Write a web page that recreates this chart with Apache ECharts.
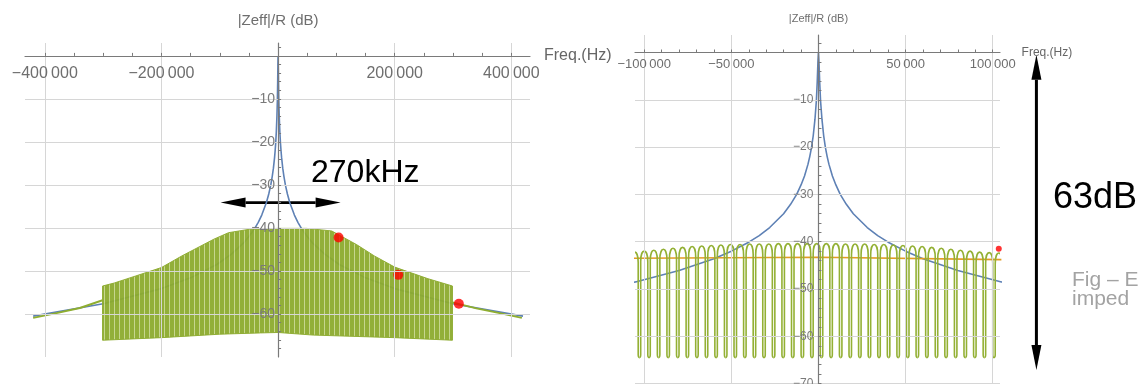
<!DOCTYPE html>
<html>
<head>
<meta charset="utf-8">
<script src="https://cdn.jsdelivr.net/npm/echarts@6/dist/echarts.min.js"></script>
<style>
  html, body { margin: 0; padding: 0; background: #fff; }
  #chart { width: 1140px; height: 384px; }
</style>
</head>
<body>
<div id="chart"></div>
<script>
// ---- data ----
// blue |Zeff|/R curve (same curve in both panels)
const blueFreq = [-420000, -300000, -200000, -150000, -105000, -80000, -60000, -50000, -40000, -34000, -28000, -20000, -16000, -12500, -10000, -8000,
  -6000, -5000, -4000, -3000, -2000, -1200, -700, -300, 0,
  300, 700, 1200, 2000, 3000, 4000, 5000, 6000, 8000, 10000, 12500, 16000, 20000, 28000, 34000, 40000, 50000, 60000, 80000, 105000,
  150000, 200000, 300000, 420000];
const blueDb = [-60.5, -57.6, -54.1, -51.6, -48.5, -46.1, -43.6, -42.0, -40.1, -38.7, -37.0, -34.1, -32.1, -30.0, -28.0, -26.1,
  -23.6, -22.0, -20.1, -17.6, -14.1, -10.2, -6.2, -2.0, 0,
  -2.0, -6.2, -10.2, -14.1, -17.6, -20.1, -22.0, -23.6, -26.1, -28.0, -30.0, -32.1, -34.1, -37.0, -38.7, -40.1, -42.0, -43.6, -46.1, -48.5,
  -51.6, -54.1, -57.6, -60.5];

// left panel: green band envelopes and tails
const bandTopFreq = [-301000, -281000, -245000, -200000, -165000, -134000, -110000, -85000, -49000, 0, 49000, 92000, 135000, 165000, 200000, 257000, 299000];
const bandTopDb = [-53.5, -52.8, -51.2, -49.2, -46.5, -44.3, -42.6, -41.1, -40.3, -40.1, -40.1, -40.7, -43.9, -46.5, -49.1, -51.8, -53.5];
const bandBottomFreq = [-301000, -200000, -100000, -30000, 0, 60000, 200000, 299000];
const bandBottomDb = [-66.1, -65.5, -64.7, -64.4, -64.3, -64.9, -65.5, -66.1];
const tailLeftFreq = [-420000, -380000, -340000, -301000];
const tailLeftDb = [-60.9, -59.8, -58.6, -56.8];
const tailRightFreq = [299000, 340000, 380000, 418000];
const tailRightDb = [-57.3, -58.7, -59.8, -60.9];
const redLeftFreq = [103800, 206000, 310000];
const redLeftDb = [-42.2, -50.9, -57.6];
const leftXTicks = [-400000, -200000, 200000, 400000];
const leftYTicks = [-60, -50, -40, -30, -20, -10];

// right panel: green arches (dip frequencies + arch top levels), orange line, red dot
const archDips = [-108250, -102750, -97250, -91750, -86250, -80750, -75250, -69750, -64250, -58750, -53250, -47750, -42250, -36750,
  -31250, -25750, -20250, -14750, -9250, -3750, 1750, 7250, 12750, 18250, 23750, 29250, 34750, 40250, 45750, 51250, 56750,
  62250, 67750, 73250, 78750, 84250, 89750, 95250, 100750, 106250];
const archTops = [-42.2, -42.0, -41.8, -41.6, -41.4, -41.2, -41.0, -40.9, -40.8, -40.7, -40.6, -40.6, -40.5, -40.5, -40.5, -40.4, -40.4, -40.4, -40.4,
  -40.4, -40.4, -40.4, -40.5, -40.5, -40.5, -40.6, -40.6, -40.7, -40.8, -40.9, -41.0, -41.2, -41.4, -41.6, -41.8, -42.0, -42.2, -42.3, -42.4];
const dipFloor = -64.5;
const orangeFreq = [-106000, 0, 105000];
const orangeDb = [-43.5, -43.3, -43.8];
const redRightFreq = [103500];
const redRightDb = [-41.5];
const rightXTicks = [-100000, -50000, 50000, 100000];
const rightYTicks = [-70, -60, -50, -40, -30, -20, -10];

// annotations (data coordinates of the arrow tips)
const spanArrow = [[-98600, -34.1], [107200, -34.1]];
const dbArrow = [[125100, -0.5], [125100, -67.1]];

// ---- styling ----
const FONT = "'Liberation Sans', Arial, sans-serif";
const AXIS = '#7a7a7a';
const GRIDC = '#d6d6d6';
const BLUE = '#5e81b5';
const GREEN = '#8fae30';
const ORANGE = '#e19c24';
const RED = '#ff0000';
const gridL = { left: 25, top: 43, width: 505, height: 314 };
const gridR = { left: 635, top: 35, width: 365, height: 348.6 };

const pairs = (xs, ys) => xs.map((x, i) => [x, ys[i]]);
const grouped = v => (v < 0 ? '\u2212' : '') + String(Math.abs(v)).replace(/\B(?=(\d{3})+(?!\d))/g, '\u2009');
const minus = v => (v < 0 ? '\u2212' : '') + Math.abs(v);
function steps(a, b, s) {
  const out = [];
  for (let v = a; v <= b + 1e-9; v += s) out.push(Math.round(v));
  return out;
}

// striped fill for the dense green band
const pat = document.createElement('canvas');
pat.width = 5; pat.height = 4;
const pg = pat.getContext('2d');
pg.fillStyle = '#8dab2f'; pg.fillRect(0, 0, 5, 4);
pg.fillStyle = '#c3d48a'; pg.fillRect(4, 0, 1, 4);

// x axis sits on y = 0 (moved there by offset below), labels underneath, ticks upward
function xAxis(grid, min, max, majors, minors, size, margin, nameSize, nameGap, namePad) {
  return {
    gridIndex: grid, type: 'value', min, max, position: 'top', z: 5,
    axisLine: { onZero: false, lineStyle: { color: AXIS, width: 1.2 } },
    axisTick: { show: true, inside: false, length: 3, customValues: minors, lineStyle: { color: AXIS } },
    axisLabel: { inside: true, customValues: majors, formatter: grouped, fontSize: size, color: '#6e6e6e', fontFamily: FONT, margin },
    splitLine: { show: false },
    name: 'Freq.(Hz)', nameLocation: 'end', nameGap,
    nameTextStyle: { fontSize: nameSize, color: '#666', fontFamily: FONT, padding: namePad }
  };
}
// y axis sits on x = 0, labels left, ticks to the right
function yAxis(grid, min, max, majors, minors, size, margin, nameSize, nameGap) {
  return {
    gridIndex: grid, type: 'value', min, max, position: 'left', z: 5,
    axisLine: { onZero: false, lineStyle: { color: AXIS, width: 1.2 } },
    axisTick: { show: true, inside: true, length: 3, customValues: minors, lineStyle: { color: AXIS } },
    axisLabel: { customValues: majors, formatter: minus, fontSize: size, color: '#7a7a7a', fontFamily: FONT, margin },
    splitLine: { show: false },
    name: '|Zeff|/R (dB)', nameLocation: 'end', nameGap,
    nameTextStyle: { fontSize: nameSize, color: '#6e6e6e', fontFamily: FONT }
  };
}
function gridLines(xi, xs, ys) {
  return {
    type: 'line', xAxisIndex: xi, yAxisIndex: xi, data: [], z: 1, silent: true,
    markLine: {
      silent: true, symbol: 'none', animation: false, label: { show: false },
      lineStyle: { color: GRIDC, width: 1, type: 'solid' },
      data: xs.map(v => ({ xAxis: v })).concat(ys.map(v => ({ yAxis: v })))
    }
  };
}
const plainLine = (xi, data, color, width, z) => ({
  type: 'line', xAxisIndex: xi, yAxisIndex: xi, data, showSymbol: false, symbol: 'none',
  lineStyle: { color, width }, z, silent: true
});

const chart = echarts.init(document.getElementById('chart'));

chart.setOption({
  animation: false,
  grid: [
    Object.assign({ outerBoundsMode: 'none' }, gridL),
    Object.assign({ outerBoundsMode: 'none' }, gridR)
  ],
  xAxis: [
    xAxis(0, -434000, 432000, leftXTicks, steps(-400000, 400000, 50000), 16, 10, 16, 14, [0, 0, 0, 0]),
    xAxis(1, -105300, 104200, rightXTicks, steps(-100000, 100000, 10000), 13, 5, 12, 8, [0, 0, 10, 0])
  ],
  yAxis: [
    yAxis(0, -70, 3, leftYTicks, steps(-68, 2, 2), 14, 3, 15, 15),
    yAxis(1, -70, 3.7, rightYTicks, steps(-70, 2, 2), 12, 5, 11, 11)
  ],
  series: [
    gridLines(0, leftXTicks, leftYTicks),
    gridLines(1, rightXTicks, rightYTicks),
    // left panel
    plainLine(0, pairs(blueFreq, blueDb), BLUE, 1.6, 2),
    {
      type: 'custom', xAxisIndex: 0, yAxisIndex: 0, data: [[0, -50]], z: 3, silent: true,
      renderItem(params, api) {
        const pts = bandTopFreq.map((f, i) => api.coord([f, bandTopDb[i]]));
        for (let i = bandBottomFreq.length - 1; i >= 0; i--) pts.push(api.coord([bandBottomFreq[i], bandBottomDb[i]]));
        return {
          type: 'polygon', shape: { points: pts },
          style: { fill: { image: pat, repeat: 'repeat' }, stroke: '#8dab2f', lineWidth: 1, opacity: 0.95 }
        };
      }
    },
    plainLine(0, pairs(tailLeftFreq, tailLeftDb), GREEN, 2, 3),
    plainLine(0, pairs(tailRightFreq, tailRightDb), GREEN, 2, 3),
    {
      type: 'scatter', xAxisIndex: 0, yAxisIndex: 0, data: pairs(redLeftFreq, redLeftDb),
      symbolSize: 10, itemStyle: { color: RED }, z: 4, silent: true
    },
    // right panel
    plainLine(1, pairs(blueFreq, blueDb), BLUE, 1.6, 2),
    plainLine(1, pairs(orangeFreq, orangeDb), ORANGE, 1.6, 2),
    {
      type: 'custom', xAxisIndex: 1, yAxisIndex: 1, clip: true, z: 3, silent: true,
      data: archDips.slice(0, -1).map((d, i) => [d, archDips[i + 1], archTops[i]]),
      encode: { x: [0, 1], y: 2 },
      renderItem(params, api) {
        const a = api.value(0), b = api.value(1), top = api.value(2);
        const pa = api.coord([a, dipFloor]), pb = api.coord([b, dipFloor]);
        const yTop = api.coord([a, top])[1];
        const yLeg = api.coord([a, top - 2.2])[1];
        const w = pb[0] - pa[0];
        const xa = pa[0] + w * 0.13, xb = pb[0] - w * 0.13;
        const yc = (8 * yTop - 2 * yLeg) / 6;
        const yb = pa[1];
        const d = `M${pa[0]} ${yb}Q${xa} ${yb} ${xa} ${yb - 3}L${xa} ${yLeg}C${xa} ${yc} ${xb} ${yc} ${xb} ${yLeg}` +
          `L${xb} ${yb - 3}Q${xb} ${yb} ${pb[0]} ${yb}`;
        return { type: 'path', shape: { pathData: d }, style: { fill: 'none', stroke: '#93b034', lineWidth: 1.6 } };
      }
    },
    {
      type: 'scatter', xAxisIndex: 1, yAxisIndex: 1, data: pairs(redRightFreq, redRightDb),
      symbolSize: 6, itemStyle: { color: RED }, z: 4, silent: true
    }
  ]
});

// move the axes onto the origin of each panel (Mathematica style crossing axes)
const px = (g, pt) => chart.convertToPixel({ gridIndex: g }, pt);
const o0 = px(0, [0, 0]);
const o1 = px(1, [0, 0]);
chart.setOption({
  xAxis: [{ offset: gridL.top - o0[1] }, { offset: gridR.top - o1[1] }],
  yAxis: [{ offset: gridL.left - o0[0] }, { offset: gridR.left - o1[0] }]
});

// ---- annotations ----
function arrow(p0, p1, head, half, width) {
  const dx = p1[0] - p0[0], dy = p1[1] - p0[1];
  const len = Math.hypot(dx, dy), ux = dx / len, uy = dy / len, nx = -uy, ny = ux;
  const b0 = [p0[0] + ux * head, p0[1] + uy * head];
  const b1 = [p1[0] - ux * head, p1[1] - uy * head];
  return [
    { type: 'line', shape: { x1: b0[0], y1: b0[1], x2: b1[0], y2: b1[1] }, style: { stroke: '#000', lineWidth: width } },
    { type: 'polygon', shape: { points: [p0, [b0[0] + nx * half, b0[1] + ny * half], [b0[0] - nx * half, b0[1] - ny * half]] }, style: { fill: '#000' } },
    { type: 'polygon', shape: { points: [p1, [b1[0] + nx * half, b1[1] + ny * half], [b1[0] - nx * half, b1[1] - ny * half]] }, style: { fill: '#000' } }
  ];
}
const txt = (x, y, text, size, color) => ({
  type: 'text', x, y, z: 10,
  style: { text, fontSize: size, fontFamily: FONT, fill: color, align: 'left', verticalAlign: 'middle', textAlign: 'left', textVerticalAlign: 'middle' }
});

chart.setOption({
  graphic: [
    ...arrow(px(0, spanArrow[0]), px(0, spanArrow[1]), 25, 5, 2.7),
    ...arrow(px(1, dbArrow[0]), px(1, dbArrow[1]), 25, 5, 3),
    txt(311, 173.5, '270kHz', 32, '#000'),
    txt(1053, 198, '63dB', 36, '#000'),
    txt(1072, 280, 'Fig \u2013 E', 21, '#a3a3a3'),
    txt(1072, 299, 'imped', 21, '#a3a3a3')
  ]
});
</script>
</body>
</html>
